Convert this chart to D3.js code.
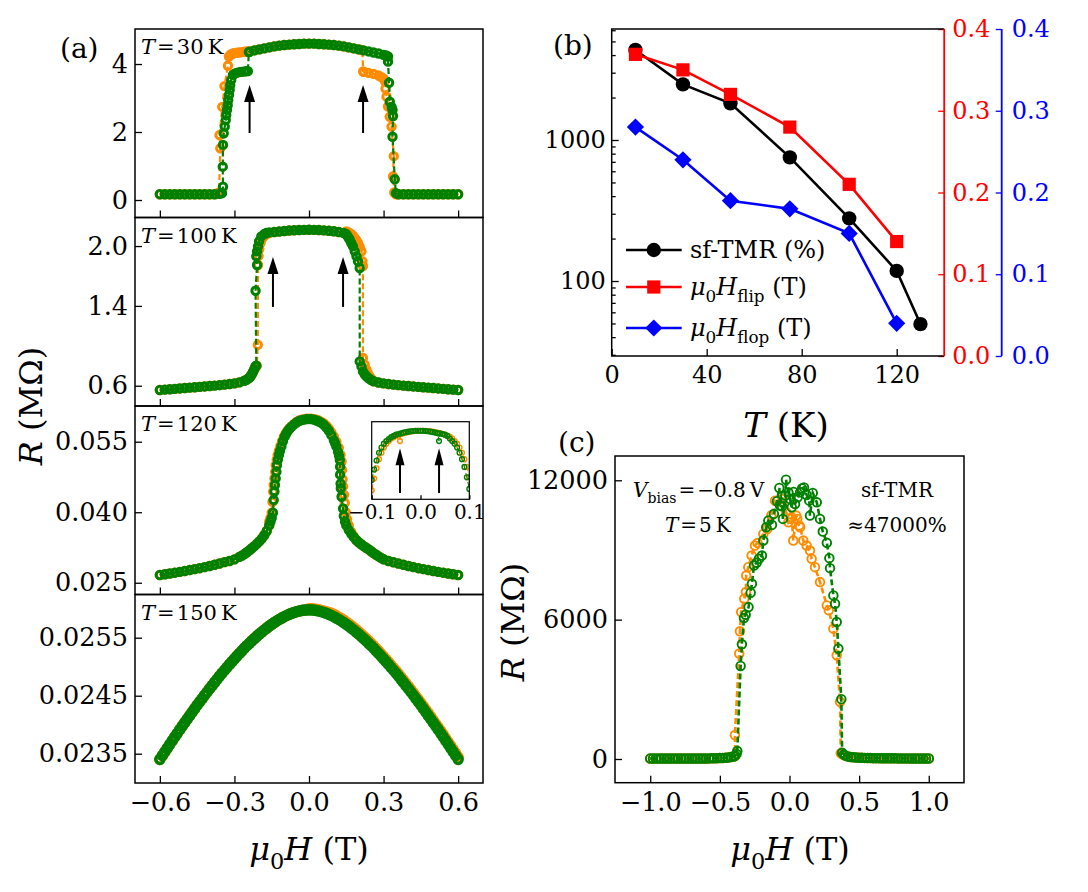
<!DOCTYPE html>
<html><head><meta charset="utf-8">
<script src="https://cdn.jsdelivr.net/npm/d3@7/dist/d3.min.js"></script>
<style>
html,body{margin:0;padding:0;background:#fff;}
svg{display:block;}
</style></head>
<body>
<svg id="fig" width="1088" height="892"></svg>
<script>
const ORANGE = "#ff8c00", GREEN = "#008000";
const FONT = "'DejaVu Serif', serif";

// ================= DATA =================
// ---- panel (a) common ----
const ticksAx = [-0.6, -0.3, 0, 0.3, 0.6];
const ticksA1 = [0, 2, 4];
const ticksA2 = [0.6, 1.4, 2.0];
const ticksA3 = [0.025, 0.040, 0.055];
const ticksA4 = [0.0235, 0.0245, 0.0255];
const tempsA = ["30", "100", "120", "150"];

// ---- 30 K ----
const low30L = [[-0.60,0.17],[-0.58,0.17],[-0.56,0.17],[-0.54,0.17],[-0.52,0.17],[-0.50,0.17],[-0.48,0.17],[-0.46,0.17],[-0.44,0.17],[-0.42,0.17],[-0.40,0.17],[-0.38,0.17]];
const up30 = [[-0.22,4.40],[-0.20,4.43],[-0.18,4.46],[-0.16,4.49],[-0.14,4.52],[-0.12,4.54],[-0.10,4.56],[-0.08,4.57],[-0.06,4.58],[-0.04,4.59],[-0.02,4.60],[0.00,4.60],[0.02,4.60],[0.04,4.59],[0.06,4.58],[0.08,4.57],[0.10,4.56],[0.12,4.54],[0.14,4.52],[0.16,4.49],[0.18,4.46],[0.20,4.43]];
const low30R = [[0.36,0.17],[0.38,0.17],[0.40,0.17],[0.42,0.17],[0.44,0.17],[0.46,0.17],[0.48,0.17],[0.50,0.17],[0.52,0.17],[0.54,0.17],[0.56,0.17],[0.58,0.17],[0.60,0.17]];
const g30L = [[-0.36,0.18],[-0.35,0.20],[-0.346,0.39],[-0.347,0.98],[-0.346,1.62],[-0.343,1.96],[-0.339,2.16],[-0.335,2.35],[-0.333,2.50],[-0.330,2.65],[-0.327,2.79],[-0.325,2.94],[-0.322,3.09],[-0.319,3.24],[-0.317,3.38],[-0.313,3.53],[-0.306,3.68],[-0.300,3.71],[-0.292,3.74],[-0.280,3.76],[-0.272,3.77],[-0.260,3.78],[-0.250,3.79],[-0.246,3.79],[-0.242,4.35],[-0.24,4.36]];
const g30R = [[0.22,4.40],[0.24,4.37],[0.26,4.34],[0.28,4.31],[0.30,4.27],[0.31,4.25],[0.318,4.22],[0.318,4.07],[0.322,3.45],[0.325,2.89],[0.332,2.74],[0.336,2.65],[0.338,2.47],[0.336,1.86],[0.345,0.61],[0.350,0.20]];
const o30L = [[-0.37,0.18],[-0.362,0.22],[-0.357,1.52],[-0.360,1.91],[-0.349,2.74],[-0.340,3.35],[-0.326,3.95],[-0.322,4.22],[-0.315,4.28],[-0.306,4.31],[-0.30,4.32],[-0.29,4.33],[-0.28,4.34],[-0.27,4.35],[-0.26,4.36],[-0.25,4.37],[-0.24,4.38]];
const o30R = [[0.21,4.415],[0.215,4.40],[0.218,3.78],[0.22,3.77],[0.24,3.74],[0.26,3.71],[0.28,3.66],[0.29,3.62],[0.30,3.57],[0.305,3.50],[0.308,3.28],[0.312,3.04],[0.318,2.75],[0.325,2.45],[0.332,2.16],[0.341,1.29],[0.338,0.69],[0.343,0.22],[0.350,0.17]];
const arrows30 = [[-0.239,1.97,3.38],[0.2175,1.97,3.38]];

// ---- 100 K ----
const low100L = [[-0.60,0.557],[-0.58,0.561],[-0.56,0.565],[-0.54,0.569],[-0.52,0.573],[-0.50,0.577],[-0.48,0.581],[-0.46,0.585],[-0.44,0.589],[-0.42,0.593],[-0.40,0.597],[-0.38,0.601],[-0.36,0.606],[-0.34,0.611],[-0.32,0.617],[-0.30,0.624],[-0.28,0.634],[-0.26,0.650],[-0.25,0.662],[-0.24,0.680],[-0.235,0.695],[-0.23,0.715],[-0.225,0.740],[-0.22,0.765]];
const top100 = [[-0.14,2.14],[-0.12,2.145],[-0.10,2.15],[-0.08,2.155],[-0.06,2.158],[-0.04,2.16],[-0.02,2.162],[0.00,2.163],[0.02,2.162],[0.04,2.16],[0.06,2.157],[0.08,2.153],[0.10,2.148],[0.12,2.14],[0.14,2.13]];
const low100R = [[0.26,0.645],[0.28,0.632],[0.30,0.624],[0.32,0.617],[0.34,0.611],[0.36,0.606],[0.38,0.601],[0.40,0.597],[0.42,0.593],[0.44,0.589],[0.46,0.585],[0.48,0.581],[0.50,0.577],[0.52,0.573],[0.54,0.569],[0.56,0.565],[0.58,0.561],[0.60,0.557]];
const g100L = [[-0.215,0.795],[-0.212,0.80],[-0.215,1.552],[-0.209,1.81],[-0.212,1.897],[-0.209,1.947],[-0.205,1.997],[-0.201,2.047],[-0.192,2.097],[-0.18,2.12],[-0.172,2.13],[-0.16,2.137]];
const g100R = [[0.15,2.12],[0.155,2.10],[0.16,2.08],[0.164,2.063],[0.17,2.03],[0.177,1.997],[0.184,1.947],[0.191,1.897],[0.197,1.847],[0.204,1.78],[0.204,0.844],[0.211,0.794],[0.217,0.744],[0.224,0.715],[0.231,0.694],[0.24,0.675],[0.25,0.657]];
const o100L = [[-0.215,0.79],[-0.21,0.80],[-0.206,1.01],[-0.205,1.81],[-0.203,1.90],[-0.20,1.97],[-0.195,2.03],[-0.19,2.07],[-0.18,2.10],[-0.17,2.12],[-0.16,2.13]];
const o100R = [[0.15,2.147],[0.16,2.135],[0.17,2.12],[0.178,2.10],[0.184,2.08],[0.19,2.06],[0.197,2.03],[0.204,1.99],[0.211,1.947],[0.215,1.847],[0.217,1.80],[0.217,0.878],[0.224,0.81],[0.231,0.76],[0.237,0.727],[0.245,0.69],[0.252,0.665]];
const arrows100 = [[-0.145,1.39,1.89],[0.137,1.39,1.89]];

// ---- 120 K ----
const tail120L = [[-0.60,0.02664],[-0.58,0.02680],[-0.56,0.02697],[-0.54,0.02714],[-0.52,0.02732],[-0.50,0.02751],[-0.48,0.02770],[-0.46,0.02790],[-0.44,0.02810],[-0.42,0.02833],[-0.40,0.02857],[-0.38,0.02882],[-0.36,0.02909],[-0.34,0.02938],[-0.32,0.02963],[-0.30,0.02998],[-0.28,0.03050],[-0.27,0.03078],[-0.26,0.03110],[-0.25,0.03148],[-0.24,0.03190],[-0.23,0.03233],[-0.22,0.03280],[-0.21,0.03328],[-0.20,0.03380],[-0.19,0.03440],[-0.18,0.03510],[-0.17,0.03600],[-0.16,0.03720]];
const tail120R = [[0.19,0.0341],[0.20,0.0336],[0.21,0.0332],[0.22,0.0328],[0.23,0.03245],[0.24,0.0321],[0.25,0.0317],[0.26,0.0313],[0.27,0.03095],[0.28,0.0306],[0.29,0.0303],[0.30,0.0300],[0.32,0.02963],[0.34,0.02935],[0.36,0.02908],[0.38,0.02882],[0.40,0.02857],[0.42,0.02833],[0.44,0.02810],[0.46,0.02790],[0.48,0.02770],[0.50,0.02751],[0.52,0.02732],[0.54,0.02714],[0.56,0.02697],[0.58,0.02680],[0.60,0.02664]];
const g120mid = [[-0.155,0.0380],[-0.150,0.0388],[-0.145,0.0399],[-0.142,0.0426],[-0.139,0.0444],[-0.137,0.0458],[-0.134,0.0472],[-0.131,0.0486],[-0.129,0.0500],[-0.125,0.0512],[-0.121,0.0522],[-0.117,0.0530],[-0.111,0.0540],[-0.105,0.0551],[-0.098,0.0561],[-0.092,0.0567],[-0.085,0.0573],[-0.078,0.0578],[-0.07,0.0582],[-0.06,0.0587],[-0.05,0.0591],[-0.04,0.0594],[-0.03,0.0596],[-0.02,0.0597],[-0.01,0.0598],[0.00,0.0598],[0.01,0.0598],[0.02,0.0597],[0.03,0.0595],[0.04,0.0593],[0.05,0.0590],[0.06,0.0586],[0.07,0.0580],[0.08,0.0573],[0.09,0.0564],[0.10,0.0553],[0.105,0.0547],[0.11,0.0540],[0.117,0.0528],[0.121,0.0520],[0.124,0.0511],[0.125,0.0497],[0.125,0.0480],[0.127,0.0461],[0.128,0.0451],[0.131,0.0433],[0.137,0.0408],[0.14,0.0392],[0.145,0.0380],[0.15,0.0372],[0.16,0.0362],[0.17,0.0354],[0.18,0.0347]];
const o120mid = [[-0.16,0.0380],[-0.155,0.0388],[-0.150,0.0399],[-0.147,0.0422],[-0.144,0.0444],[-0.142,0.0458],[-0.139,0.0472],[-0.136,0.0486],[-0.134,0.0500],[-0.130,0.0512],[-0.126,0.0522],[-0.121,0.0531],[-0.115,0.0541],[-0.108,0.0551],[-0.101,0.0561],[-0.094,0.0567],[-0.087,0.0573],[-0.08,0.0578],[-0.07,0.0583],[-0.06,0.0588],[-0.05,0.0592],[-0.04,0.0595],[-0.03,0.0597],[-0.02,0.0598],[-0.01,0.0599],[0.00,0.0599],[0.01,0.0599],[0.02,0.0598],[0.03,0.0597],[0.04,0.0595],[0.05,0.0592],[0.06,0.0589],[0.07,0.0584],[0.08,0.0578],[0.09,0.0570],[0.10,0.0561],[0.11,0.0550],[0.12,0.0537],[0.127,0.0522],[0.131,0.0508],[0.133,0.0490],[0.135,0.0470],[0.137,0.0455],[0.141,0.0437],[0.144,0.0420],[0.148,0.0400],[0.153,0.0385],[0.16,0.0372],[0.17,0.0358],[0.18,0.0349]];
// inset (zoom near zero field)
const insetTicks = [-0.1, 0, 0.1];
const gInset = [[-0.1,0.0560],[-0.095,0.0568],[-0.09,0.0575],[-0.085,0.0581],[-0.08,0.0585],[-0.075,0.0588],[-0.07,0.0590],[-0.065,0.05915],[-0.06,0.0593],[-0.055,0.0594],[-0.05,0.0595],[-0.045,0.05955],[-0.04,0.0596],[-0.035,0.05965],[-0.03,0.0597],[-0.025,0.05973],[-0.02,0.05976],[-0.015,0.05978],[-0.01,0.0598],[-0.005,0.0598],[0,0.0598],[0.005,0.0598],[0.01,0.05978],[0.015,0.05976],[0.02,0.05974],[0.025,0.0597],[0.03,0.05966],[0.035,0.05962],[0.038,0.0590],[0.04,0.0596],[0.045,0.05955],[0.05,0.0595],[0.055,0.0594],[0.06,0.0592],[0.065,0.0590],[0.07,0.0588],[0.075,0.0585],[0.08,0.0581],[0.085,0.0576],[0.09,0.0570],[0.095,0.0562],[0.1,0.0553]];
const oInset = [[-0.1,0.0552],[-0.095,0.0561],[-0.09,0.0569],[-0.085,0.0576],[-0.08,0.0581],[-0.075,0.0585],[-0.07,0.0588],[-0.065,0.0590],[-0.06,0.0592],[-0.055,0.0593],[-0.05,0.0594],[-0.045,0.05948],[-0.042,0.0590],[-0.04,0.05955],[-0.035,0.0596],[-0.03,0.05965],[-0.025,0.0597],[-0.02,0.05974],[-0.015,0.05977],[-0.01,0.05979],[-0.005,0.0598],[0,0.0598],[0.005,0.0598],[0.01,0.0598],[0.015,0.05978],[0.02,0.05976],[0.025,0.05973],[0.03,0.0597],[0.035,0.05966],[0.04,0.05962],[0.045,0.05957],[0.05,0.0595],[0.055,0.05943],[0.06,0.05935],[0.065,0.0592],[0.07,0.0590],[0.075,0.0588],[0.08,0.0585],[0.085,0.0581],[0.09,0.0576],[0.095,0.0570],[0.1,0.0562]];
const arrowsInset = [[-0.042,0.05499,0.05844],[0.038,0.05499,0.05844]];

// ---- 150 K ----
const H150 = [-0.60,-0.59,-0.58,-0.57,-0.56,-0.55,-0.54,-0.53,-0.52,-0.51,-0.50,-0.49,-0.48,-0.47,-0.46,-0.45,-0.44,-0.43,-0.42,-0.41,-0.40,-0.39,-0.38,-0.37,-0.36,-0.35,-0.34,-0.33,-0.32,-0.31,-0.30,-0.29,-0.28,-0.27,-0.26,-0.25,-0.24,-0.23,-0.22,-0.21,-0.20,-0.19,-0.18,-0.17,-0.16,-0.15,-0.14,-0.13,-0.12,-0.11,-0.10,-0.09,-0.08,-0.07,-0.06,-0.05,-0.04,-0.03,-0.02,-0.01,0.00,0.01,0.02,0.03,0.04,0.05,0.06,0.07,0.08,0.09,0.10,0.11,0.12,0.13,0.14,0.15,0.16,0.17,0.18,0.19,0.20,0.21,0.22,0.23,0.24,0.25,0.26,0.27,0.28,0.29,0.30,0.31,0.32,0.33,0.34,0.35,0.36,0.37,0.38,0.39,0.40,0.41,0.42,0.43,0.44,0.45,0.46,0.47,0.48,0.49,0.50,0.51,0.52,0.53,0.54,0.55,0.56,0.57,0.58,0.59,0.60];
const R150g = [0.023403,0.023469,0.023533,0.023598,0.023662,0.023726,0.023789,0.023852,0.023914,0.023976,
0.024037,0.024098,0.024158,0.024218,0.024277,0.024336,0.024394,0.024451,0.024508,0.024564,
0.024620,0.024675,0.024729,0.024783,0.024836,0.024888,0.024939,0.024989,0.025039,0.025088,
0.025136,0.025183,0.025229,0.025274,0.025319,0.025362,0.025404,0.025445,0.025485,0.025524,
0.025562,0.025598,0.025633,0.025667,0.025699,0.025730,0.025760,0.025788,0.025814,0.025839,
0.025862,0.025883,0.025902,0.025920,0.025935,0.025948,0.025960,0.025968,0.025975,0.025979,
0.025980,
0.025979,0.025975,0.025968,0.025960,0.025948,0.025935,0.025920,0.025902,0.025883,0.025862,
0.025839,0.025814,0.025788,0.025760,0.025730,0.025699,0.025667,0.025633,0.025598,0.025562,
0.025524,0.025485,0.025445,0.025404,0.025362,0.025319,0.025274,0.025229,0.025183,0.025136,
0.025088,0.025039,0.024989,0.024939,0.024888,0.024836,0.024783,0.024729,0.024675,0.024620,
0.024564,0.024508,0.024451,0.024394,0.024336,0.024277,0.024218,0.024158,0.024098,0.024037,
0.023976,0.023914,0.023852,0.023789,0.023726,0.023662,0.023598,0.023533,0.023469,0.023403];
const R150oRight = [0.026000,
0.025999,0.025995,0.025988,0.025980,0.025968,0.025959,0.025948,0.025934,0.025919,0.025902,
0.025879,0.025854,0.025828,0.025800,0.025770,0.025739,0.025707,0.025673,0.025638,0.025602,
0.025564,0.025525,0.025485,0.025444,0.025402,0.025359,0.025314,0.025269,0.025223,0.025176,
0.025128,0.025079,0.025029,0.024979,0.024928,0.024876,0.024823,0.024769,0.024715,0.024660,
0.024604,0.024548,0.024491,0.024434,0.024376,0.024317,0.024258,0.024198,0.024138,0.024077,
0.024016,0.023954,0.023892,0.023829,0.023766,0.023702,0.023638,0.023573,0.023509,0.023443];
const R150o = R150g.slice(0, 60).concat(R150oRight);

// ---- panel (b) ----
const Tb = [10, 30, 50, 75, 100, 120, 130];
const tmr = [4350, 2480, 1820, 753, 278, 118, 49.5];
const Tf = [10, 30, 50, 75, 100, 120];
const hflip = [0.369, 0.350, 0.320, 0.280, 0.210, 0.140];
const hflop = [0.280, 0.240, 0.190, 0.180, 0.150, 0.040];
const ticksBx = [0, 40, 80, 120];
const ticksBlog = [100, 1000];
const ticksBminor = [30,40,50,60,70,80,90,200,300,400,500,600,700,800,900,2000,3000,4000,5000,6000];
const ticksBr = [0, 0.1, 0.2, 0.3, 0.4];

// ---- panel (c) ----
const ticksCx = [-1.0, -0.5, 0, 0.5, 1.0];
const ticksCy = [0, 6000, 12000];
const cLowL = [[-1.00,25],[-0.98,25],[-0.96,25],[-0.94,25],[-0.92,25],[-0.90,25],[-0.88,25],[-0.86,25],[-0.84,25],[-0.82,25],[-0.80,25],[-0.78,25],[-0.76,25],[-0.74,25],[-0.72,25],[-0.70,25],[-0.68,25],[-0.66,25],[-0.64,25],[-0.62,25],[-0.60,25],[-0.58,27],[-0.56,29],[-0.54,32],[-0.52,35],[-0.50,39],[-0.48,44],[-0.46,52],[-0.44,64],[-0.42,82],[-0.40,110]];
const cLowR = [[0.40,150],[0.42,110],[0.44,90],[0.46,76],[0.48,66],[0.50,58],[0.52,52],[0.54,47],[0.56,43],[0.58,40],[0.60,37],[0.62,35],[0.64,33],[0.66,32],[0.68,31],[0.70,30],[0.72,29],[0.74,28],[0.76,28],[0.78,27],[0.80,27],[0.82,26],[0.84,26],[0.86,26],[0.88,25],[0.90,25],[0.92,25],[0.94,25],[0.96,25],[0.98,25],[1.00,25]];
const gCmid = [[-0.39,150],[-0.38,220],[-0.375,344],[-0.351,4008],[-0.342,4940],[-0.327,6070],[-0.315,6214],[-0.294,6540],[-0.279,7160],[-0.270,7546],[-0.255,8330],[-0.236,8450],[-0.219,8620],[-0.198,8760],[-0.188,9406],[-0.167,9977],[-0.152,10265],[-0.126,10080],[-0.112,10553],[-0.090,11100],[-0.073,11670],[-0.068,10910],[-0.054,10880],[-0.047,10338],[-0.030,11340],[-0.025,12027],[-0.008,11480],[0.004,11196],[0.016,10837],[0.030,11500],[0.040,10980],[0.059,11266],[0.076,11480],[0.090,11650],[0.104,11695],[0.123,11368],[0.142,11124],[0.147,10480],[0.167,11455],[0.196,11050],[0.219,10338],[0.239,9793],[0.268,9306],[0.286,8648],[0.291,8218],[0.315,7044],[0.327,6687],[0.339,5898],[0.351,4753],[0.372,2577],[0.378,270],[0.39,190]];
const oCmid = [[-0.39,140],[-0.392,1030],[-0.361,4540],[-0.356,5498],[-0.347,6327],[-0.325,6900],[-0.313,7187],[-0.311,7900],[-0.296,8260],[-0.272,8760],[-0.248,9190],[-0.230,9300],[-0.188,9692],[-0.160,9900],[-0.130,10500],[-0.104,11124],[-0.056,11050],[-0.050,11190],[-0.023,10620],[-0.008,10190],[0.010,10338],[0.016,10405],[0.027,9406],[0.048,10480],[0.056,10338],[0.070,10050],[0.076,9977],[0.099,9406],[0.123,9190],[0.147,8976],[0.159,8620],[0.183,8260],[0.219,7616],[0.268,6614],[0.282,6400],[0.315,5613],[0.339,4467],[0.363,2461],[0.368,245],[0.38,200]];

// ================= DRAWING =================
const svg = d3.select("#fig");
svg.append("rect").attr("width", 1088).attr("height", 892).attr("fill", "#fff");
const defs = svg.append("defs");
let clipN = 0;
function clipped(g, x0, y0, w, h) {
  const id = "clip" + (clipN++);
  defs.append("clipPath").attr("id", id).append("rect").attr("x", x0).attr("y", y0).attr("width", w).attr("height", h);
  return g.append("g").attr("clip-path", `url(#${id})`);
}
function styleAxis(sel, fs, color) {
  color = color || "#000";
  sel.select(".domain").remove();
  sel.selectAll(".tick line").attr("stroke", color).attr("stroke-width", 1.3);
  sel.selectAll(".tick text").attr("font-family", FONT).attr("font-size", fs).attr("fill", color);
}
function rich(g, x, y, parts, size, anchor, fill) {
  const t = g.append("text").attr("x", x).attr("y", y).attr("font-size", size)
    .attr("text-anchor", anchor || "start").attr("font-family", FONT).attr("fill", fill || "#000");
  let shift = 0;
  parts.forEach(p => {
    const ts = t.append("tspan").text(p.t);
    if (p.i) ts.attr("font-style", "italic");
    const target = p.sub ? size * 0.28 : 0;
    if (target !== shift) { ts.attr("dy", target - shift); shift = target; }
    if (p.sub) ts.attr("font-size", size * 0.7);
  });
  return t;
}
function series(g, x, y, data, color, r, sw, lw) {
  g.append("path").datum(data)
    .attr("d", d3.line().x(d => x(d[0])).y(d => y(d[1])))
    .attr("fill", "none").attr("stroke", color).attr("stroke-width", lw).attr("stroke-dasharray", "6,3");
  g.selectAll(null).data(data).enter().append("circle")
    .attr("cx", d => x(d[0])).attr("cy", d => y(d[1])).attr("r", r)
    .attr("fill", "none").attr("stroke", color).attr("stroke-width", sw);
}
function arrow(g, x, y, a, hl, hw) {
  const px = x(a[0]), yb = y(a[1]), yt = y(a[2]);
  g.append("line").attr("x1", px).attr("x2", px).attr("y1", yb).attr("y2", yt + hl - 2)
    .attr("stroke", "#000").attr("stroke-width", 2);
  g.append("path").attr("d", `M${px},${yt}L${px - hw},${yt + hl}L${px + hw},${yt + hl}Z`).attr("fill", "#000");
}

// ---------- panel (a) ----------
const AX0 = 135, AX1 = 483;
const xa = d3.scaleLinear().domain([-0.70, 0.70]).range([AX0, AX1]);
const aPanels = [
  {top: 29, bot: 217.5, yd: [-0.515, 5.03], yt: ticksA1, fmt: d3.format("d"), r: 3.7, sw: 3.0},
  {top: 217.5, bot: 406, yd: [0.397, 2.286], yt: ticksA2, fmt: d3.format(".1f"), r: 3.7, sw: 3.0},
  {top: 406, bot: 594.5, yd: [0.0225, 0.0626], yt: ticksA3, fmt: d3.format(".3f"), r: 3.7, sw: 3.0},
  {top: 594.5, bot: 783, yd: [0.022995, 0.026245], yt: ticksA4, fmt: d3.format(".4f"), r: 4.1, sw: 3.4}
];
const aData = [
  {o: [...low30L, ...o30L, ...up30, ...o30R, ...low30R], g: [...low30L, ...g30L, ...up30, ...g30R, ...low30R], arrows: arrows30},
  {o: [...low100L, ...o100L, ...top100, ...o100R, ...low100R], g: [...low100L, ...g100L, ...top100, ...g100R, ...low100R], arrows: arrows100},
  {o: [...tail120L, ...o120mid, ...tail120R], g: [...tail120L, ...g120mid, ...tail120R], arrows: []},
  {o: H150.map((h, i) => [h, R150o[i]]), g: H150.map((h, i) => [h, R150g[i]]), arrows: []}
];
const gA = svg.append("g");
aPanels.forEach((p, k) => {
  const y = d3.scaleLinear().domain(p.yd).range([p.bot, p.top]);
  const inner = clipped(gA, AX0, p.top, AX1 - AX0, p.bot - p.top);
  series(inner, xa, y, aData[k].o, ORANGE, p.r, p.sw, 2.2);
  series(inner, xa, y, aData[k].g, GREEN, p.r, p.sw, 2.2);
  aData[k].arrows.forEach(a => arrow(inner, xa, y, a, 17, 5.5));
  gA.append("g").attr("transform", `translate(0,${p.bot})`)
    .call(d3.axisBottom(xa).tickValues(ticksAx).tickFormat(k === 3 ? d3.format(".1f") : "").tickSize(-7).tickPadding(10))
    .call(styleAxis, 25.5);
  gA.append("g").attr("transform", `translate(${AX0},0)`)
    .call(d3.axisLeft(y).tickValues(p.yt).tickFormat(p.fmt).tickSize(-7).tickPadding(7))
    .call(styleAxis, 25.5);
  gA.append("rect").attr("x", AX0).attr("y", p.top).attr("width", AX1 - AX0).attr("height", p.bot - p.top)
    .attr("fill", "none").attr("stroke", "#000").attr("stroke-width", 1.5);
  rich(gA, 141, p.top + 25, [{t: "T", i: 1}, {t: "\u200A=\u200A" + tempsA[k] + "\u2009K"}], 21);

  if (k === 2) {
    // inset
    const ix0 = 371.7, ix1 = 469.3, iy0 = 421.7, iy1 = 499.3;
    const xi = d3.scaleLinear().domain([-0.1, 0.1]).range([ix0, ix1]);
    const yi = d3.scaleLinear().domain([0.0545, 0.0605]).range([iy1, iy0]);
    gA.append("rect").attr("x", ix0).attr("y", iy0).attr("width", ix1 - ix0).attr("height", iy1 - iy0).attr("fill", "#fff");
    const ii = clipped(gA, ix0, iy0, ix1 - ix0, iy1 - iy0);
    series(ii, xi, yi, oInset, ORANGE, 2.4, 1.4, 1);
    series(ii, xi, yi, gInset, GREEN, 2.4, 1.4, 1);
    arrowsInset.forEach(a => arrow(ii, xi, yi, a, 17, 4.5));
    gA.append("g").attr("transform", `translate(0,${iy1})`)
      .call(d3.axisBottom(xi).tickValues(insetTicks).tickFormat(d3.format(".1f")).tickSize(-4).tickPadding(6))
      .call(styleAxis, 20);
    gA.append("rect").attr("x", ix0).attr("y", iy0).attr("width", ix1 - ix0).attr("height", iy1 - iy0)
      .attr("fill", "none").attr("stroke", "#000").attr("stroke-width", 1.2);
  }
});
rich(gA, 60, 58, [{t: "(a)"}], 28);
rich(gA, 309, 860, [{t: "\u03BC", i: 1}, {t: "0", sub: 1}, {t: "H", i: 1}, {t: " (T)"}], 32, "middle");
rich(gA.append("g").attr("transform", "translate(42,406) rotate(-90)"), 0, 0, [{t: "R", i: 1}, {t: " (M\u03A9)"}], 32, "middle");

// ---------- panel (b) ----------
const gB = svg.append("g");
const BX0 = 611.7, BX1 = 944.2, BY0 = 29, BY1 = 356;
const xb = d3.scaleLinear().domain([0, 140]).range([BX0, BX1]);
const yb = d3.scaleLog().domain([29.4, 6124]).range([BY1, BY0]);
const yr = d3.scaleLinear().domain([0, 0.4]).range([BY1, BY0]);
gB.append("g").attr("transform", `translate(0,${BY1})`)
  .call(d3.axisBottom(xb).tickValues(ticksBx).tickFormat(d3.format("d")).tickSize(-7).tickPadding(10)).call(styleAxis, 24);
gB.append("g").attr("transform", `translate(${BX0},0)`)
  .call(d3.axisLeft(yb).tickValues(ticksBlog).tickFormat(d3.format("d")).tickSize(-7).tickPadding(6)).call(styleAxis, 24);
gB.append("g").attr("transform", `translate(${BX0},0)`)
  .call(d3.axisLeft(yb).tickValues(ticksBminor).tickFormat("").tickSize(-4)).call(styleAxis, 24);
gB.append("g").attr("transform", `translate(${BX1},0)`)
  .call(d3.axisRight(yr).tickValues(ticksBr).tickFormat(d3.format(".1f")).tickSize(-6).tickPadding(8)).call(styleAxis, 24, "#ff0000");
const BLUEX = 1001.7;
gB.append("g").attr("transform", `translate(${BLUEX},0)`)
  .call(d3.axisRight(yr).tickValues(ticksBr).tickFormat(d3.format(".1f")).tickSize(-6).tickPadding(10)).call(styleAxis, 24, "#0000ff");
gB.append("path").attr("d", `M${BX1},${BY0}H${BX0}V${BY1}H${BX1}`).attr("fill", "none").attr("stroke", "#000").attr("stroke-width", 1.5);
gB.append("line").attr("x1", BX1).attr("x2", BX1).attr("y1", BY0).attr("y2", BY1).attr("stroke", "#ff0000").attr("stroke-width", 1.8);
gB.append("line").attr("x1", BLUEX).attr("x2", BLUEX).attr("y1", BY0).attr("y2", BY1).attr("stroke", "#0000ff").attr("stroke-width", 1.8);

function marker(g, type, cx, cy, color) {
  if (type === "o") g.append("circle").attr("cx", cx).attr("cy", cy).attr("r", 7.2).attr("fill", color);
  else if (type === "s") g.append("rect").attr("x", cx - 6.6).attr("y", cy - 6.6).attr("width", 13.2).attr("height", 13.2).attr("fill", color);
  else g.append("path").attr("d", `M${cx},${cy - 8.6}L${cx + 8.6},${cy}L${cx},${cy + 8.6}L${cx - 8.6},${cy}Z`).attr("fill", color);
}
const bSeries = [
  {T: Tb, v: tmr, y: yb, color: "#000", m: "o"},
  {T: Tf, v: hflip, y: yr, color: "#ff0000", m: "s"},
  {T: Tf, v: hflop, y: yr, color: "#0000ff", m: "d"}
];
bSeries.forEach(s => {
  const pts = s.T.map((t, i) => [xb(t), s.y(s.v[i])]);
  gB.append("path").attr("d", d3.line()(pts)).attr("fill", "none").attr("stroke", s.color).attr("stroke-width", 2.6);
  pts.forEach(p => marker(gB, s.m, p[0], p[1], s.color));
});
const legendRows = [
  {y: 250, color: "#000", m: "o", parts: [{t: "sf-TMR (%)"}]},
  {y: 287, color: "#ff0000", m: "s", parts: [{t: "\u03BC", i: 1}, {t: "0", sub: 1}, {t: "H", i: 1}, {t: "flip", sub: 1}, {t: " (T)"}]},
  {y: 328, color: "#0000ff", m: "d", parts: [{t: "\u03BC", i: 1}, {t: "0", sub: 1}, {t: "H", i: 1}, {t: "flop", sub: 1}, {t: " (T)"}]}
];
legendRows.forEach(r => {
  gB.append("line").attr("x1", 626).attr("x2", 681.7).attr("y1", r.y).attr("y2", r.y).attr("stroke", r.color).attr("stroke-width", 2.6);
  marker(gB, r.m, 653.8, r.y, r.color);
  rich(gB, 690, r.y + 8, r.parts, 24);
});
rich(gB, 553, 55, [{t: "(b)"}], 28);
rich(gB, 786, 437, [{t: "T", i: 1}, {t: " (K)"}], 34, "middle");

// ---------- panel (c) ----------
const gC = svg.append("g");
const CX0 = 615, CX1 = 964, CY0 = 456, CY1 = 782.7;
const xc = d3.scaleLinear().domain([-1.253, 1.253]).range([CX0, CX1]);
const yc = d3.scaleLinear().domain([-1020, 13046]).range([CY1, CY0]);
const cInner = clipped(gC, CX0, CY0, CX1 - CX0, CY1 - CY0);
series(cInner, xc, yc, [...cLowL, ...oCmid, ...cLowR], ORANGE, 4.3, 1.9, 2.6);
series(cInner, xc, yc, [...cLowL, ...gCmid, ...cLowR], GREEN, 4.3, 1.9, 2.6);
gC.append("g").attr("transform", `translate(0,${CY1})`)
  .call(d3.axisBottom(xc).tickValues(ticksCx).tickFormat(d3.format(".1f")).tickSize(-7).tickPadding(10)).call(styleAxis, 25.5);
gC.append("g").attr("transform", `translate(${CX0},0)`)
  .call(d3.axisLeft(yc).tickValues(ticksCy).tickFormat(d3.format("d")).tickSize(-7).tickPadding(7)).call(styleAxis, 25.5);
gC.append("rect").attr("x", CX0).attr("y", CY0).attr("width", CX1 - CX0).attr("height", CY1 - CY0)
  .attr("fill", "none").attr("stroke", "#000").attr("stroke-width", 1.5);
rich(gC, 633, 497, [{t: "V", i: 1}, {t: "bias", sub: 1}, {t: "\u200A=\u200A\u22120.8\u2009V"}], 20);
rich(gC, 665, 532, [{t: "T", i: 1}, {t: "\u200A=\u200A5\u2009K"}], 20);
rich(gC, 897, 497, [{t: "sf-TMR"}], 20, "middle");
rich(gC, 897, 532, [{t: "\u224847000%"}], 20, "middle");
rich(gC, 558, 452, [{t: "(c)"}], 28);
rich(gC, 790, 860, [{t: "\u03BC", i: 1}, {t: "0", sub: 1}, {t: "H", i: 1}, {t: " (T)"}], 32, "middle");
rich(gC.append("g").attr("transform", "translate(524,622) rotate(-90)"), 0, 0, [{t: "R", i: 1}, {t: " (M\u03A9)"}], 32, "middle");
</script>
</body></html>
